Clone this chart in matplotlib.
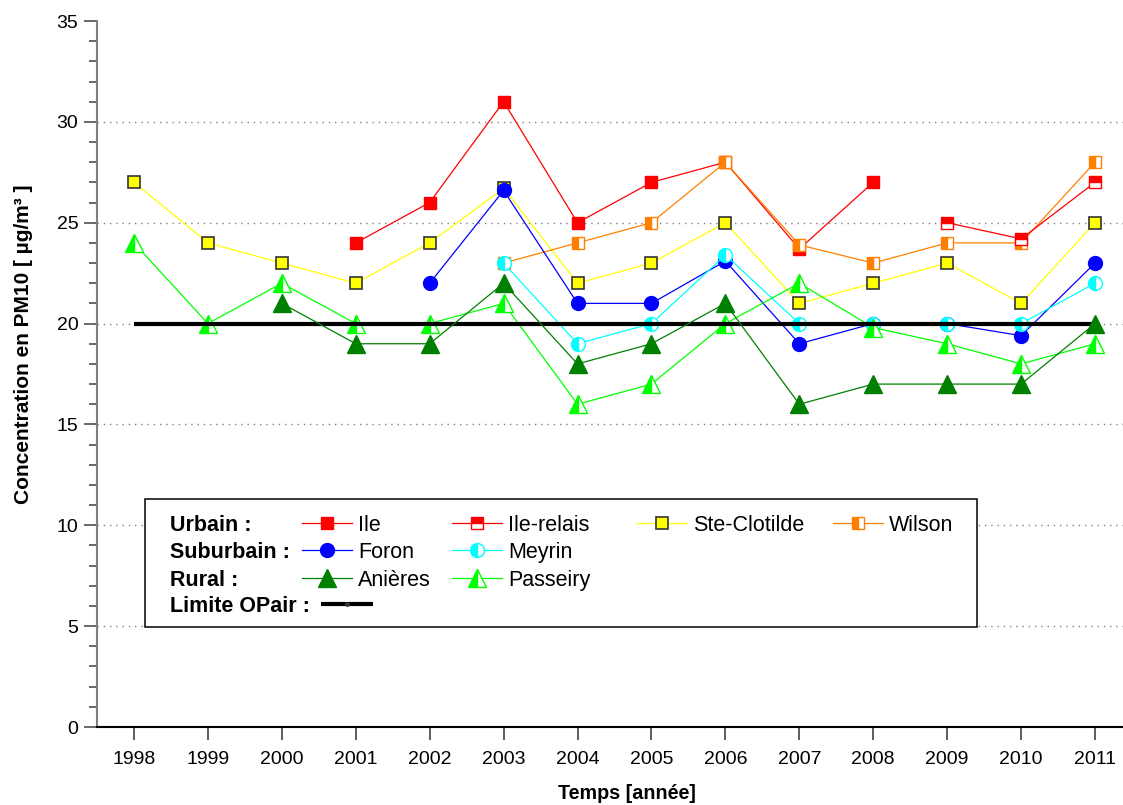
import numpy as np
import matplotlib
matplotlib.use('Agg')
import matplotlib.pyplot as plt
from matplotlib.ticker import MultipleLocator
from matplotlib.patches import Rectangle
from matplotlib.lines import Line2D

plt.rcParams['font.family'] = ['Liberation Sans', 'DejaVu Sans']

# ---------------- data ----------------
years = list(range(1998, 2012))
nan = np.nan
ile = [nan, nan, nan, 24, 26, 31, 25, 27, 28, 23.7, 27, nan, nan, nan]
ile_relais = [nan] * 11 + [25, 24.2, 27]
ste_clotilde = [27, 24, 23, 22, 24, 26.7, 22, 23, 25, 21, 22, 23, 21, 25]
wilson = [nan] * 5 + [23, 24, 25, 28, 23.9, 23, 24, 24, 28]
foron = [nan] * 4 + [22, 26.6, 21, 21, 23.1, 19, 20, 20, 19.4, 23]
meyrin = [nan] * 5 + [23, 19, 20, 23.4, 20, 20, 20, 20, 22]
anieres = [nan] * 2 + [21, 19, 19, 22, 18, 19, 21, 16, 17, 17, 17, 20]
passeiry = [24, 20, 22, 20, 20, 21, 16, 17, 20, 22, 19.8, 19, 18, 19]
limite_opair = 20

ylabel = "Concentration en PM10 [ µg/m³ ]"
xlabel = "Temps [année]"

# ---------------- styles ----------------
RED, YEL, ORA, BLU, CYA, DGR, LIM = '#FF0000', '#FFFF00', '#FF8000', '#0000FF', '#00FFFF', '#008000', '#00FF00'
styles = {
    'Ile': dict(color=RED, marker='s', ms=8.5, mfc=RED, mec=RED),
    'Ile-relais': dict(color=RED, marker='s', ms=8.5, mfc=RED, mec=RED, fillstyle='top', markerfacecoloralt='white'),
    'Ste-Clotilde': dict(color=YEL, marker='s', ms=8.5, mfc=YEL, mec='#333333', mew=1.2),
    'Wilson': dict(color=ORA, marker='s', ms=8.5, mfc=ORA, mec=ORA, fillstyle='left', markerfacecoloralt='white'),
    'Foron': dict(color=BLU, marker='o', ms=10, mfc=BLU, mec=BLU),
    'Meyrin': dict(color=CYA, marker='o', ms=10, mfc=CYA, mec=CYA, fillstyle='left', markerfacecoloralt='white'),
    'Anières': dict(color=DGR, marker='^', ms=12.5, mfc=DGR, mec=DGR),
    'Passeiry': dict(color=LIM, marker='^', ms=12.5, mfc=LIM, mec=LIM, fillstyle='left', markerfacecoloralt='white'),
}
series = [('Ile', ile), ('Wilson', wilson), ('Ile-relais', ile_relais), ('Ste-Clotilde', ste_clotilde),
          ('Foron', foron), ('Meyrin', meyrin), ('Passeiry', passeiry)]

W, H = 1123, 805
fig = plt.figure(figsize=(W / 100, H / 100), dpi=100)
ax = fig.add_axes([97 / W, 1 - 727 / H, (1132 - 97) / W, (727 - 21) / H])

ax.set_xlim(years[0] - 0.5, years[-1] + 0.5)
ax.set_ylim(0, 35)

for y in range(5, 35, 5):
    ax.axhline(y, color='#808080', lw=1.0, ls=(0, (1, 3.5)), zorder=1)

# reorder so that Ste-Clotilde is under blue points
order = ['Ile', 'Ste-Clotilde', 'Wilson', 'Ile-relais', 'Foron', 'Meyrin', 'Passeiry']
data = dict(series)
for name in order:
    st = dict(styles[name])
    ax.plot(years, data[name], lw=0.9, zorder=3, clip_on=False, **st)

ax.plot([years[0], years[-1]], [limite_opair, limite_opair], color='black', lw=3, zorder=4,
        solid_capstyle='butt')
ax.plot(years, anieres, lw=0.9, zorder=5, clip_on=False, **styles['Anières'])

# axes styling
for s in ['top', 'right']:
    ax.spines[s].set_visible(False)
ax.spines['left'].set_color('#808080')
ax.spines['left'].set_linewidth(1.5)
ax.spines['bottom'].set_color('black')
ax.spines['bottom'].set_linewidth(1.5)

ax.set_xticks(years)
ax.set_xticklabels([str(y) for y in years])
ax.set_yticks(range(0, 36, 5))
ax.yaxis.set_minor_locator(MultipleLocator(1))
ax.tick_params(axis='y', which='major', direction='out', length=9.5, width=1.1, color='#404040',
               labelsize=14, pad=4)
ax.tick_params(axis='y', which='minor', direction='out', length=5.5, width=1.1, color='#404040')
ax.tick_params(axis='x', which='major', direction='out', length=9, width=1.1, color='#303030',
               labelsize=14, pad=8)

fig.text(627 / W, 1 - 793 / H, xlabel, ha='center', va='center', fontsize=14.2, fontweight='bold')
fig.text(24 / W, 1 - 344 / H, ylabel, ha='center', va='center', rotation=90, fontsize=15,
         fontweight='bold')

# ---------------- legend (pixel-coordinate overlay) ----------------
lax = fig.add_axes([0, 0, 1, 1], zorder=10)
lax.set_xlim(0, W)
lax.set_ylim(H, 0)
lax.axis('off')
lax.patch.set_alpha(0)

lax.add_patch(Rectangle((145, 499), 977 - 145, 627 - 499, facecolor='white', edgecolor='black', lw=1.1))

fs = 15.5
cap = 0.716 * fs * 100 / 72
rows_y = [523, 550, 578, 604]
headers = ['Urbain :', 'Suburbain :', 'Rural :', 'Limite OPair :']
for ry, h in zip(rows_y, headers):
    lax.text(170, ry + cap / 2, h, fontsize=fs, fontweight='bold', va='baseline', ha='left')

cols_x = [302, 452, 637, 833]
entries = [(0, 0, 'Ile'), (0, 1, 'Ile-relais'), (0, 2, 'Ste-Clotilde'), (0, 3, 'Wilson'),
           (1, 0, 'Foron'), (1, 1, 'Meyrin'),
           (2, 0, 'Anières'), (2, 1, 'Passeiry')]
for r, c, name in entries:
    x0 = cols_x[c]
    ry = rows_y[r]
    st = dict(styles[name])
    marker_keys = {k: st.pop(k) for k in list(st.keys()) if k != 'color'}
    lax.add_line(Line2D([x0, x0 + 50], [ry, ry], color=st['color'], lw=0.9))
    lax.add_line(Line2D([x0 + 25], [ry], linestyle='none', **marker_keys))
    lax.text(x0 + 56, ry + cap / 2, name, fontsize=fs, va='baseline', ha='left')

lax.add_line(Line2D([321, 373], [rows_y[3], rows_y[3]], color='black', lw=3, solid_capstyle='butt'))
lax.add_line(Line2D([347], [rows_y[3]], linestyle='none', marker='o', ms=2.5, mfc='#333333', mec='#333333'))

fig.savefig('out.png', dpi=100)
